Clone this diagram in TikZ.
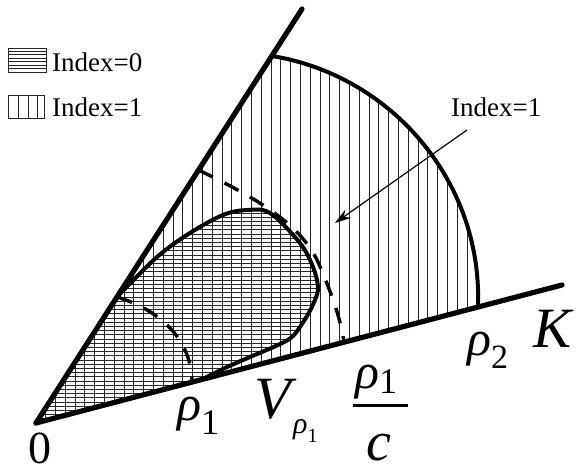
\documentclass[tikz,border=0pt]{standalone}
\usepackage{fontspec}
\setmainfont{Liberation Serif}
\usetikzlibrary{arrows.meta}

\begin{document}
\begin{tikzpicture}
[x=1pt,y=-1pt,
 ray/.style={line width=5.2pt,line cap=round},
 rim/.style={line width=4pt},
 dashline/.style={line width=3.4pt,dash pattern=on 16pt off 13pt},
 hatch/.style={line width=0.9pt,black!85},
 legbox/.style={line width=0.9pt,black!85},
 lbl/.style={inner sep=0pt,anchor=base west}
]
\useasboundingbox (0,0) rectangle (576,471);

\coordinate (O) at (36,423);
\coordinate (A) at (302,9);
\coordinate (B) at (562,285);
\coordinate (P) at (271.8,56);% arc meets upper ray
\coordinate (Q) at (478,305);% arc meets lower ray
\coordinate (R) at (117,297);
\coordinate (S) at (200,380.5);
\coordinate (E) at (192,382.5);
\coordinate (D1) at (198.5,170);
\coordinate (D2) at (344,342.5);

% Index=1 region, vertical hatching
\begin{scope}
\clip (O) -- (P) .. controls (390,75) and (482,180) .. (Q) -- cycle;
\foreach \i in {0,...,46}
  \draw[hatch] ({35.8+9.8*\i},0) -- ++(0,471);
\end{scope}

% Index=0 region, horizontal hatching on top
\begin{scope}
\clip (O) -- plot[smooth,tension=0.55] coordinates {(117,297) (157,257) (190,233) (223,215) (247,210) (270,213) (300,243) (313,267) (318,287) (315,300) (307,316) (293,336) (278,345) (250,357) (225,368) (200,380.5)} -- cycle;
\foreach \j in {0,...,52}
  \draw[hatch] (0,{423-4.2*\j}) -- ++(576,0);
\end{scope}

\draw[rim] (P) .. controls (390,75) and (482,180) .. (Q);
\draw[rim] plot[smooth,tension=0.55] coordinates {(117,297) (157,257) (190,233) (223,215) (247,210) (270,213) (300,243) (313,267) (318,287) (315,300) (307,316) (293,336) (278,345) (250,357) (225,368) (200,380.5)};

\draw[dashline] (R) .. controls (160,310) and (192,340) .. (E);
\draw[dashline] (D1) .. controls (250,195) and (300,222) .. (318,262) .. controls (330,290) and (340,315) .. (D2);

\draw[ray] (O) -- (A);
\draw[ray] (O) -- (B);

% legend
\draw[legbox] (8,48) rectangle (46,72);
\foreach \k in {1,...,6}
  \draw[hatch] (8,{48+3.43*\k}) -- (46,{48+3.43*\k});
\draw[legbox] (8,95) rectangle (44,118);
\foreach \x in {18,28,37}
  \draw[hatch] (\x,95) -- (\x,118);
\node[lbl] (leg0) at (52,71) {\fontsize{27}{30}\selectfont Index=0};
\node[lbl] (leg1) at (52,116) {\fontsize{27}{30}\selectfont Index=1};

% pointer
\node[lbl] (idx) at (451,116) {\fontsize{27}{30}\selectfont Index=1};
\coordinate (T) at (467,130);
\coordinate (H) at (335,223);
\draw[-{Stealth[length=16pt,width=10pt]},line width=1.2pt] (T) -- (H);

% labels
\node[lbl] (zero) at (28,463) {\fontsize{46}{48}\selectfont 0};
\node[lbl] (rho1) at (177,420) {\fontsize{50}{50}\selectfont\itshape ρ\raisebox{-14pt}{\fontsize{36}{36}\selectfont\upshape 1}};
\node[lbl] (V) at (254,418) {\fontsize{60}{60}\selectfont\itshape V};
\node[lbl] (Vsub) at (293,433) {\fontsize{30}{30}\selectfont\itshape ρ\raisebox{-9pt}{\fontsize{20}{20}\selectfont\upshape 1}};
\node[lbl] (num) at (355,388) {\fontsize{50}{50}\selectfont\itshape ρ\raisebox{-5pt}{\fontsize{36}{36}\selectfont\upshape 1}};
\coordinate (bar1) at (353,405.5);
\coordinate (bar2) at (408,405.5);
\draw[line width=3pt] (bar1) -- (bar2);
\node[lbl] (den) at (366,460) {\fontsize{56}{56}\selectfont\itshape c};
\node[lbl] (rho2) at (467,355) {\fontsize{50}{50}\selectfont\itshape ρ\raisebox{-13pt}{\fontsize{34}{34}\selectfont\upshape 2}};
\node[lbl] (K) at (533,347) {\fontsize{57}{57}\selectfont\itshape K};

\end{tikzpicture}
\end{document}
